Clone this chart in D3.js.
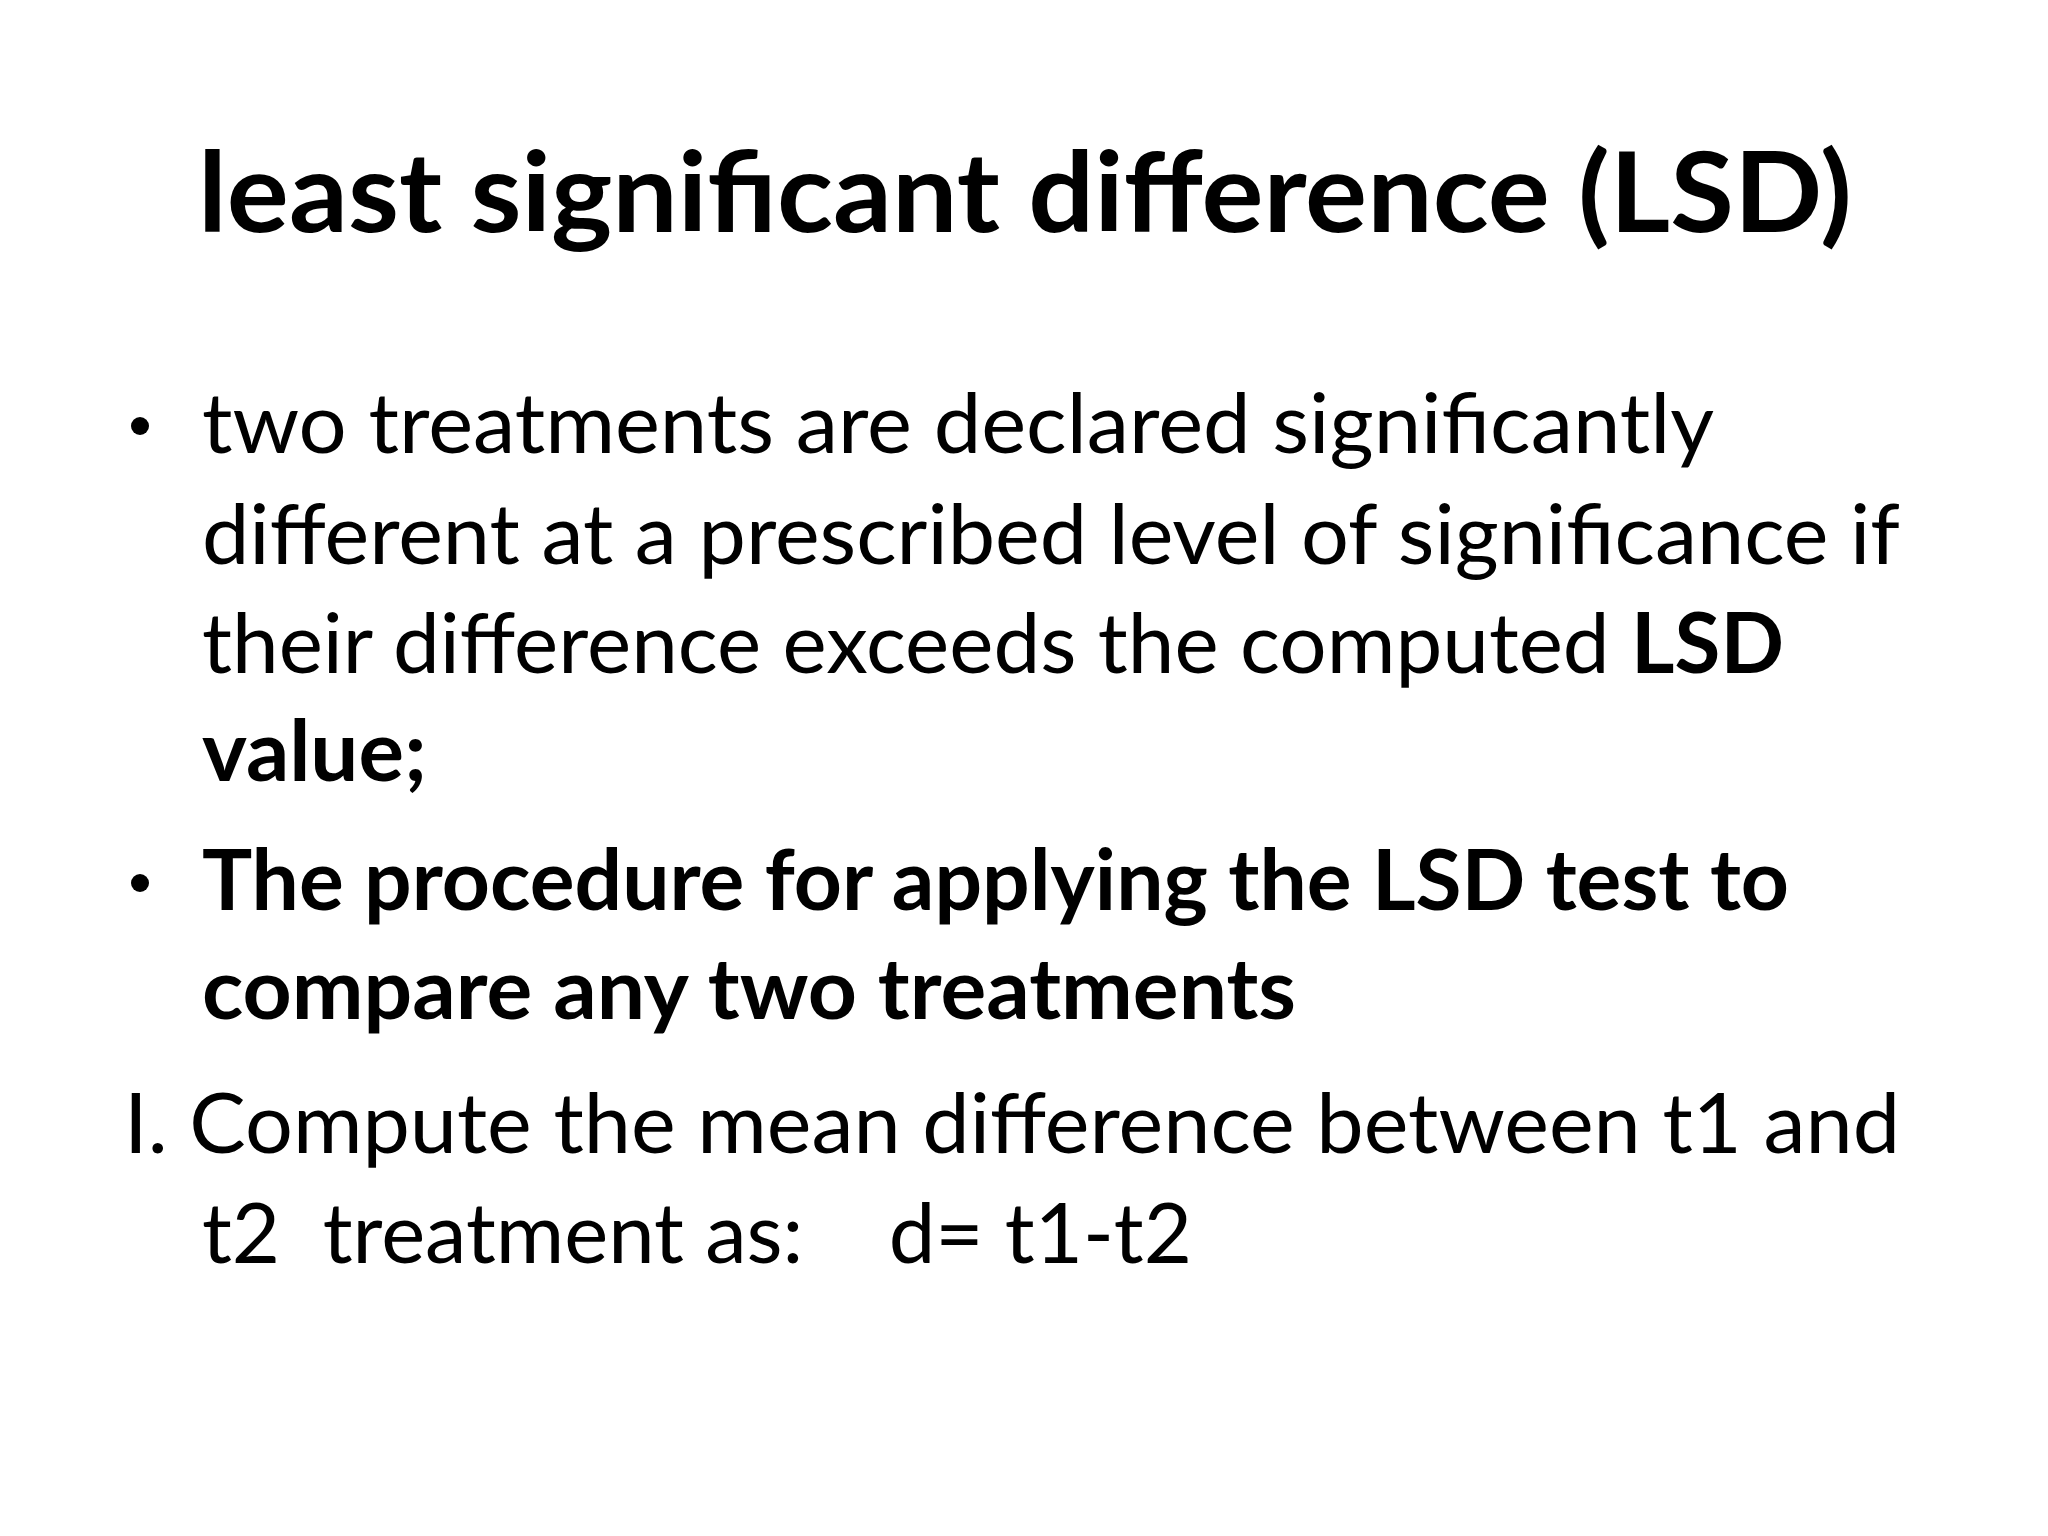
<!DOCTYPE html>
<html><head><meta charset="utf-8">
<script src="https://cdn.jsdelivr.net/npm/d3@7"></script>
<style>body{margin:0;background:#fff}</style></head>
<body><script>
const title = "least significant difference (LSD)";
// each line: segments [text, bold], bullet flag, baseline, x start, x end
const lineSegments = [
  [["two treatments are declared significantly", false]],
  [["different at a prescribed level of significance if", false]],
  [["their difference exceeds the computed ", false], ["LSD", true]],
  [["value;", true]],
  [["The procedure for applying the LSD test to", true]],
  [["compare any two treatments", true]],
  [["I. Compute the mean difference between t1 and", false]],
  [["t2  treatment as:    d= t1-t2", false]]
];
const bullets = [true, false, false, false, true, false, false, false];
const baselines = [453, 564, 673, 781, 910, 1019, 1153, 1263];
const xStart = [202, 202, 202, 202, 202, 202, 124, 202];
const xEnd = [1714, 1900, 1784, 427, 1789, 1296, 1900, 1192];

const W = 2048, H = 1536;
const svg = d3.select("body").append("svg").attr("width", W).attr("height", H);
svg.append("rect").attr("width", W).attr("height", H).attr("fill", "#fff");
const font = "Lato, 'Open Sans', sans-serif";

svg.append("text").attr("x", 198).attr("y", 232)
  .attr("font-family", font).attr("font-weight", "bold").attr("font-size", 112)
  .attr("textLength", 1654).attr("lengthAdjust", "spacingAndGlyphs")
  .attr("fill", "#000").text(title);

lineSegments.forEach((segs, i) => {
  const t = svg.append("text").attr("x", xStart[i]).attr("y", baselines[i])
    .attr("font-family", font).attr("font-size", 84).attr("fill", "#000")
    .attr("textLength", xEnd[i] - xStart[i]).attr("lengthAdjust", "spacingAndGlyphs")
    .attr("xml:space", "preserve").style("white-space", "pre");
  segs.forEach(([s, b]) => t.append("tspan").attr("font-weight", b ? "bold" : "normal").text(s));
  if (bullets[i]) {
    svg.append("circle").attr("cx", 140).attr("cy", baselines[i] - 27).attr("r", 9).attr("fill", "#000");
  }
});
</script></body></html>
